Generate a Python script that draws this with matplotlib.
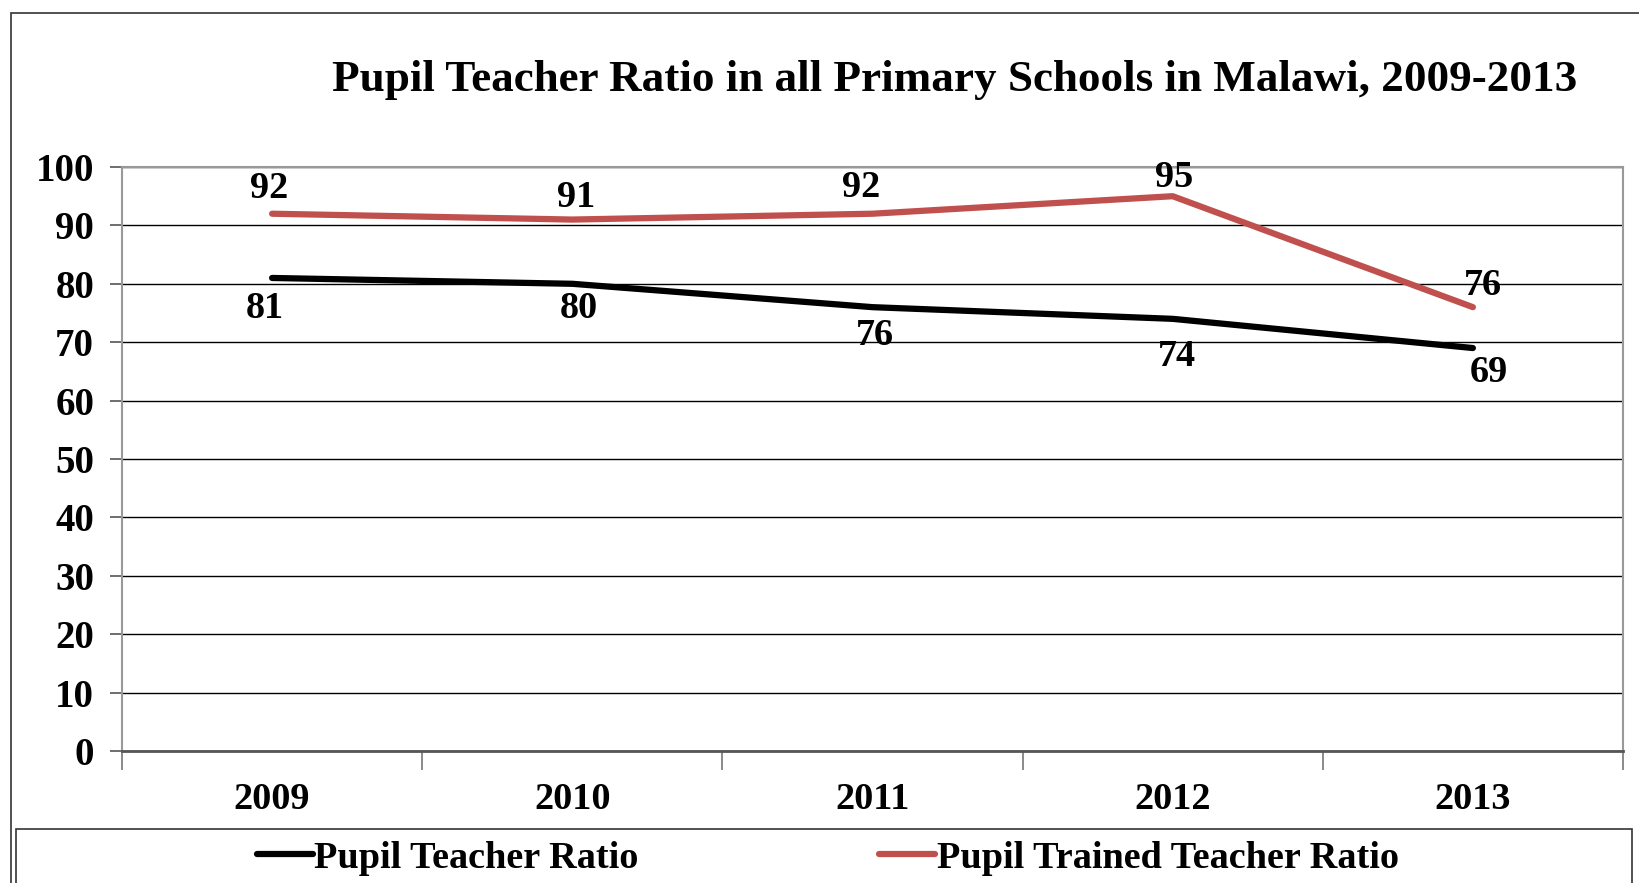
import matplotlib
matplotlib.use('Agg')
import matplotlib.pyplot as plt
from matplotlib.patches import Rectangle
from matplotlib.lines import Line2D

# data
years = ['2009', '2010', '2011', '2012', '2013']
ptr = [81, 80, 76, 74, 69]          # Pupil Teacher Ratio
pttr = [92, 91, 92, 95, 76]         # Pupil Trained Teacher Ratio
y_ticks = [0, 10, 20, 30, 40, 50, 60, 70, 80, 90, 100]

plt.rcParams['font.family'] = ['Liberation Serif', 'DejaVu Serif']
plt.rcParams['font.weight'] = 'bold'

FS = 27.5

fig = plt.figure(figsize=(16.4, 8.83), dpi=100)
W, H = 1640, 883

# outer chart frame
fig.add_artist(Rectangle((11.5 / W, -0.02), 1.1, 1 - 12.5 / H + 0.02, transform=fig.transFigure,
                         fill=False, edgecolor='#333333', lw=1.2))

ax = fig.add_axes([122 / W, 1 - 751 / H, (1623 - 122) / W, (751 - 167) / H])
x = list(range(len(years)))

ax.plot(x, ptr, color='black', lw=4.5, solid_capstyle='round', zorder=3)
ax.plot(x, pttr, color='#C0504D', lw=4.5, solid_capstyle='round', zorder=3)

# label nudges in pixels (dx, dy)
red_off = [(-3, 25), (4, 22), (-11, 26), (1, 19), (10, 22)]
blk_off = [(-7, -31), (7, -25), (2, -28), (4, -38), (16, -24)]
for i in x:
    ax.annotate(str(pttr[i]), (i, pttr[i]), xytext=red_off[i], textcoords='offset pixels',
                ha='center', va='center', fontsize=FS, fontweight='bold', zorder=4)
    ax.annotate(str(ptr[i]), (i, ptr[i]), xytext=blk_off[i], textcoords='offset pixels',
                ha='center', va='center', fontsize=FS, fontweight='bold', zorder=4)

ax.set_xlim(-0.5, len(years) - 0.5)
ax.set_ylim(0, 100)
ax.set_yticks(y_ticks)
ax.set_yticklabels([str(v) for v in y_ticks], fontsize=28, fontweight='bold')
ax.grid(axis='y', color='black', lw=1)
ax.set_axisbelow(True)

# category ticks at boundaries, labels at centres
ax.set_xticks([i + 0.5 for i in range(-1, len(years))])
ax.set_xticklabels([])
ax.set_xticks(x, minor=True)
ax.set_xticklabels(years, minor=True, fontsize=FS, fontweight='bold')
ax.tick_params(axis='x', which='major', length=14, color='#777777', width=1.2)
ax.tick_params(axis='x', which='minor', length=0, pad=22)
ax.tick_params(axis='y', length=9, color='#555555', width=1.2, pad=11)

for s in ['top', 'right', 'left']:
    ax.spines[s].set_color('#999999')
    ax.spines[s].set_linewidth(1.5)
ax.spines['bottom'].set_color('#555555')
ax.spines['bottom'].set_linewidth(2)

fig.text(955 / W, 1 - 80 / H, 'Pupil Teacher Ratio in all Primary Schools in Malawi, 2009-2013',
         ha='center', va='center', fontsize=32.5, fontweight='bold')

# legend box
fig.add_artist(Rectangle((16 / W, -0.02), (1632 - 16) / W, (883 - 829) / H + 0.02,
                         transform=fig.transFigure, fill=False, edgecolor='#333333', lw=1.2))
handles = [Line2D([], [], color='black', lw=4.5, solid_capstyle='round'),
           Line2D([], [], color='#C0504D', lw=4.5, solid_capstyle='round')]
fig.legend(handles, ['Pupil Teacher Ratio', 'Pupil Trained Teacher Ratio'], ncol=2,
           loc='center', bbox_to_anchor=(828 / W, 1 - 858 / H), frameon=False,
           prop={'size': FS, 'weight': 'bold'}, handlelength=1.45, handletextpad=0.05,
           columnspacing=6.3, borderpad=0)

plt.savefig('out.png', dpi=100)
